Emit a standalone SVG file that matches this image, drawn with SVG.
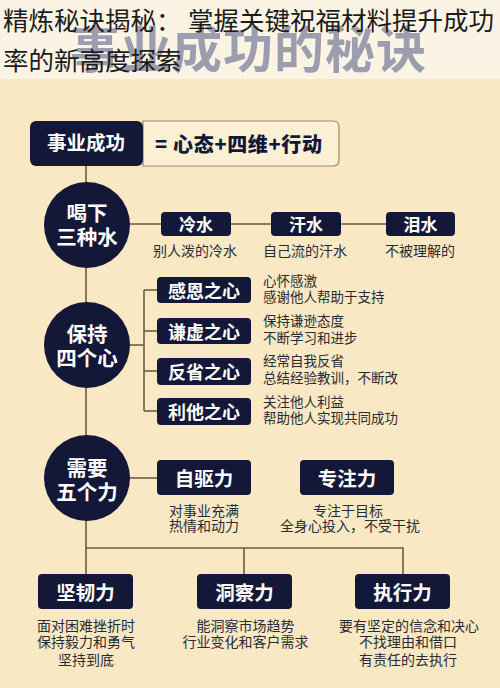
<svg xmlns="http://www.w3.org/2000/svg" width="500" height="688" viewBox="0 0 500 688">
<style>
text{font-family:"Noto Sans CJK SC","Noto Sans",sans-serif}
.title{font-size:25.5px;fill:#1c1c1c;font-weight:400}
.wm{font-size:50px;font-weight:700;fill:#9c9eb0}
.ln{stroke:#6c5c40;stroke-width:1.6;fill:none}
.navy{fill:#141838}
.cw{font-size:20.5px;font-weight:700;fill:#fff;text-anchor:middle}
.bw{font-size:18px;font-weight:700;fill:#fff;text-anchor:middle}
.bw2{font-size:19.5px;font-weight:700;fill:#fff;text-anchor:middle}
.lab{font-size:14px;fill:#2b2a33;text-anchor:middle}
.lab2{font-size:13.5px;fill:#2b2a33}
</style>
<rect x="0" y="0" width="500" height="688" fill="#f8e9c4"/>
<rect x="0" y="0" width="500" height="79" fill="#fbf4e4"/>
<text class="wm" x="70" y="68" letter-spacing="1">事业成功的秘诀</text>
<g id="title">
<text class="title" x="3" y="30">精炼秘诀揭秘：<tspan x="188">掌握关键祝福材料提升成功</tspan></text>
<text class="title" x="3" y="70">率的新高度探索</text>
</g>
<g id="connectors">
<line class="ln" x1="86" y1="166" x2="86" y2="574"/>
<line class="ln" x1="130" y1="224" x2="386" y2="224"/>
<polyline class="ln" points="130,345 144,345"/>
<line class="ln" x1="144" y1="290" x2="144" y2="411"/>
<line class="ln" x1="144" y1="290" x2="157" y2="290"/>
<line class="ln" x1="144" y1="331" x2="157" y2="331"/>
<line class="ln" x1="144" y1="371" x2="157" y2="371"/>
<line class="ln" x1="144" y1="411" x2="157" y2="411"/>
<line class="ln" x1="130" y1="478" x2="157" y2="478"/>
<polyline class="ln" points="86,548 403,548 403,574"/>
<line class="ln" x1="244" y1="548" x2="244" y2="574"/>
</g>
<g id="header">
<path d="M143,121 H333 Q339,121 339,127 V160 Q339,166 333,166 H143 Z" fill="#fbf0d3" stroke="#9a8a68" stroke-width="1.2"/>
<rect class="navy" x="30" y="121" width="113" height="45" rx="6"/>
<text class="bw" x="86" y="150" style="font-size:19.5px">事业成功</text>
<text x="155" y="152" textLength="167" lengthAdjust="spacing" style="font-size:20px;font-weight:900;fill:#141838">= 心态+四维+行动</text>
</g>
<g id="c1">
<circle class="navy" cx="87" cy="225" r="43"/>
<text class="cw" x="87" y="221">喝下</text>
<text class="cw" x="87" y="245">三种水</text>
</g>
<g id="w1">
<rect class="navy" x="161" y="212" width="70" height="24" rx="4"/>
<text class="bw" x="196" y="231" style="font-size:17px">冷水</text>
<text class="lab" x="195" y="256">别人泼的冷水</text>
</g>
<g id="w2">
<rect class="navy" x="271" y="212" width="70" height="24" rx="4"/>
<text class="bw" x="306" y="231" style="font-size:17px">汗水</text>
<text class="lab" x="305" y="256">自己流的汗水</text>
</g>
<g id="w3">
<rect class="navy" x="386" y="212" width="69" height="24" rx="4"/>
<text class="bw" x="420.5" y="231" style="font-size:17px">泪水</text>
<text class="lab" x="420" y="256">不被理解的</text>
</g>
<g id="c2">
<circle class="navy" cx="87" cy="345" r="43"/>
<text class="cw" x="87" y="341.5">保持</text>
<text class="cw" x="87" y="365.5">四个心</text>
</g>
<g id="h1">
<rect class="navy" x="157" y="277" width="94" height="26" rx="4"/>
<text class="bw" x="204" y="297.5">感恩之心</text>
<text class="lab2" x="263" y="286">心怀感激</text>
<text class="lab2" x="263" y="302">感谢他人帮助于支持</text>
</g>
<g id="h2">
<rect class="navy" x="157" y="318" width="94" height="26" rx="4"/>
<text class="bw" x="204" y="338.5">谦虚之心</text>
<text class="lab2" x="263" y="326">保持谦逊态度</text>
<text class="lab2" x="263" y="343">不断学习和进步</text>
</g>
<g id="h3">
<rect class="navy" x="157" y="358" width="94" height="27" rx="4"/>
<text class="bw" x="204" y="378.5">反省之心</text>
<text class="lab2" x="263" y="366">经常自我反省</text>
<text class="lab2" x="263" y="383">总结经验教训，不断改</text>
</g>
<g id="h4">
<rect class="navy" x="157" y="398" width="94" height="27" rx="4"/>
<text class="bw" x="204" y="418.5">利他之心</text>
<text class="lab2" x="263" y="407">关注他人利益</text>
<text class="lab2" x="263" y="423">帮助他人实现共同成功</text>
</g>
<g id="c3">
<circle class="navy" cx="87" cy="478" r="43"/>
<text class="cw" x="87" y="475.5">需要</text>
<text class="cw" x="87" y="499.5">五个力</text>
</g>
<g id="f1">
<rect class="navy" x="157" y="460" width="94" height="35" rx="4"/>
<text class="bw2" x="204" y="486">自驱力</text>
<text class="lab" x="204" y="516">对事业充满</text>
<text class="lab" x="204" y="531">热情和动力</text>
</g>
<g id="f2">
<rect class="navy" x="300" y="460" width="94" height="35" rx="4"/>
<text class="bw2" x="347" y="486">专注力</text>
<text class="lab" x="348" y="516">专注于目标</text>
<text class="lab" x="350" y="531">全身心投入，不受干扰</text>
</g>
<g id="f3">
<rect class="navy" x="38" y="574" width="95" height="35" rx="4"/>
<text class="bw2" x="85.5" y="600">坚韧力</text>
<text class="lab" x="86" y="631">面对困难挫折时</text>
<text class="lab" x="86" y="647">保持毅力和勇气</text>
<text class="lab" x="86" y="665">坚持到底</text>
</g>
<g id="f4">
<rect class="navy" x="197" y="574" width="95" height="35" rx="4"/>
<text class="bw2" x="244.5" y="600">洞察力</text>
<text class="lab" x="245.5" y="631">能洞察市场趋势</text>
<text class="lab" x="245.5" y="647">行业变化和客户需求</text>
</g>
<g id="f5">
<rect class="navy" x="355" y="574" width="95" height="35" rx="4"/>
<text class="bw2" x="402.5" y="600">执行力</text>
<text class="lab" x="409" y="631">要有坚定的信念和决心</text>
<text class="lab" x="408" y="647">不找理由和借口</text>
<text class="lab" x="408" y="665">有责任的去执行</text>
</g>
</svg>
